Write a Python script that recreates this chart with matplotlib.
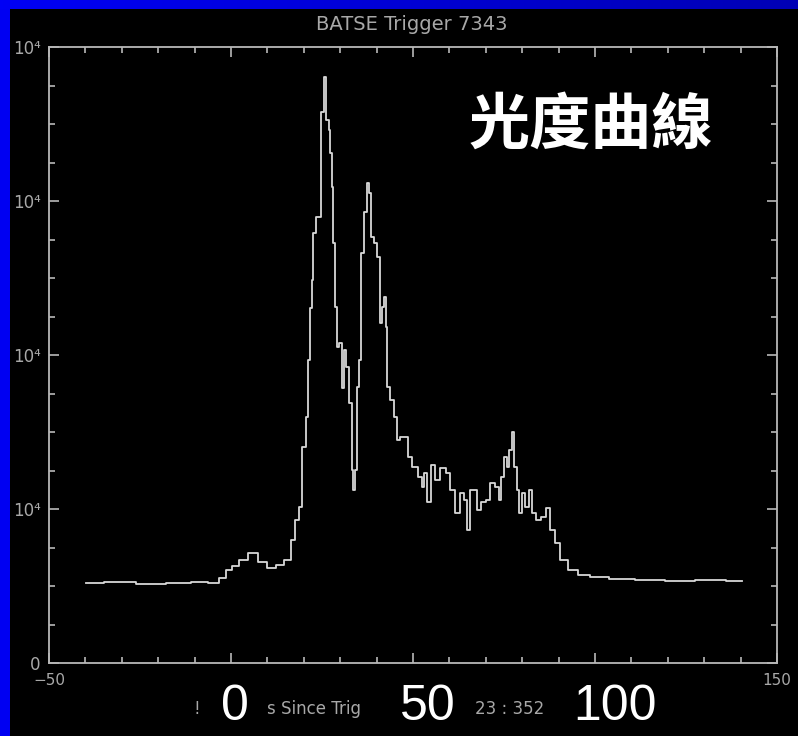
import numpy as np
import matplotlib.pyplot as plt
from matplotlib.patches import Rectangle
from matplotlib.colors import LinearSegmentedColormap
from matplotlib.ticker import MultipleLocator

# BATSE trigger 7343 light curve
time_s = [-39.8, -30.2, -22.0, -13.8, -8.3, -4.2, -2.3, -0.6, 1.3, 3.2,
          6.2, 8.7, 10.9, 13.6, 15.6, 17.2, 18.0, 19.1, 20.0, 21.1,
          21.3, 21.9, 22.4, 22.7, 24.1, 25.2, 25.7, 26.5, 27.1, 27.4,
          27.9, 28.2, 28.7, 29.3, 30.1, 30.7, 31.2, 32.0, 32.9, 33.4,
          33.7, 34.2, 34.8, 35.6, 36.1, 37.0, 37.5, 38.3, 38.6, 39.7,
          40.5, 41.1, 41.6, 42.5, 42.7, 43.0, 44.4, 45.2, 46.0, 47.1,
          48.2, 48.8, 50.7, 52.1, 52.9, 53.4, 54.3, 55.6, 56.7, 58.4,
          59.5, 60.8, 62.2, 63.6, 64.4, 65.2, 66.3, 67.1, 68.0, 69.3,
          70.7, 71.8, 73.2, 74.0, 74.6, 75.4, 76.2, 76.7, 77.6, 78.1,
          78.9, 79.5, 80.3, 81.4, 82.2, 83.1, 84.4, 85.8, 87.2, 88.3,
          89.6, 91.3, 93.8, 96.8, 100.6, 106.9, 115.2, 123.4, 131.6, 140.4]
counts = [5190, 5260, 5130, 5190, 5260, 5190, 5520, 6040, 6300, 6690,
          7140, 6560, 6170, 6360, 6690, 7990, 9290, 10130, 14030, 15970,
          19680, 23050, 24870, 27920, 28960, 35780, 38050, 35260, 34610, 33120,
          30910, 27270, 23120, 20520, 20780, 17860, 20320, 19220, 16880, 12530,
          11230, 12530, 17920, 19680, 26620, 29290, 31170, 30520, 27660, 27270,
          26360, 22080, 23120, 23770, 21820, 17920, 17080, 15970, 14480, 14680,
          14680, 13380, 12730, 12080, 11430, 12340, 10450, 12860, 11880, 12660,
          12340, 11230, 9740, 11040, 10580, 8640, 11230, 11230, 9940, 10450,
          10580, 11690, 11430, 10580, 12080, 13380, 12730, 13830, 15000, 12730,
          11230, 9740, 11040, 10130, 11230, 9740, 9290, 9480, 10060, 8640,
          7790, 6690, 6040, 5710, 5580, 5450, 5390, 5320, 5390, 5320]

xticks = [-50, 0, 50, 100, 150]
xtick_labels = ["\u221250", "", "", "", "150"]
yticks = [0, 10000, 20000, 30000, 40000]
ytick_labels = ["0", "10\u2074", "10\u2074", "10\u2074", "10\u2074"]
big_labels = ["0", "50", "100"]

W, H = 798, 736
grey = "#a8a8a8"
idl_font = ["Liberation Sans Narrow", "DejaVu Sans"]

fig = plt.figure(figsize=(W / 100, H / 100), dpi=100, facecolor="black")
ax = fig.add_axes([49 / W, 1 - 663 / H, (777 - 49) / W, (663 - 47) / H])
ax.set_facecolor("black")

ax.plot(time_s, counts, drawstyle="steps-mid", color="#d8d8d8", lw=1.3)
ax.set_xlim(-50, 150)
ax.set_ylim(0, 40000)

ax.set_xticks(xticks)
ax.set_xticklabels(xtick_labels)
ax.set_yticks(yticks)
ax.set_yticklabels(ytick_labels)
ax.xaxis.set_minor_locator(MultipleLocator(10))
ax.yaxis.set_minor_locator(MultipleLocator(2500))
ax.tick_params(which="both", direction="in", top=True, right=True,
               color="#b8b8b8", width=1.2, labelcolor=grey, labelsize=11)
ax.tick_params(which="major", length=7.5)
ax.tick_params(which="minor", length=4)
ax.tick_params(axis="y", pad=6, labelsize=12)
ax.tick_params(axis="x", pad=7)
for lab in ax.get_xticklabels() + ax.get_yticklabels():
    lab.set_family(idl_font)
for sp in ax.spines.values():
    sp.set_color("#b8b8b8")
    sp.set_linewidth(1.3)

fig.text(412 / W, 1 - 25 / H, "BATSE Trigger 7343", ha="center", va="center",
         color=grey, fontsize=14, family=idl_font)

# parts of the IDL x-axis title left visible between the slide's big numbers
fig.text(197 / W, 1 - 709 / H, "!", ha="center", va="center",
         color=grey, fontsize=12, family=idl_font)
fig.text(267 / W, 1 - 709 / H, "s Since Trig", ha="left", va="center",
         color=grey, fontsize=12, family=idl_font)
fig.text(475 / W, 1 - 709 / H, "23 : 352", ha="left", va="center",
         color=grey, fontsize=12, family=idl_font)

for lab, xc in zip(big_labels, [235, 428, 615]):
    fig.text(xc / W, 1 - 707 / H, lab, ha="center", va="center", color="white",
             fontsize=36, family=["Liberation Sans", "DejaVu Sans"])

fig.text(591 / W, 1 - 126 / H, "光度曲線", ha="center", va="center", color="white",
         fontsize=44, fontweight="bold", family=["Noto Sans CJK TC", "DejaVu Sans"])

# blue slide border (left strip and top band)
fig.add_artist(Rectangle((0, 0), 10 / W, 1, transform=fig.transFigure,
                         facecolor="#0000f2", edgecolor="none", zorder=10))
band = fig.add_axes([0, 1 - 9 / H, 1, 9 / H], zorder=11)
grad = np.linspace(0, 1, 256)[None, :]
band.imshow(grad, aspect="auto",
            cmap=LinearSegmentedColormap.from_list("slide", ["#0000f5", "#0000b5"]))
band.axis("off")

fig.savefig("out.png", dpi=100, facecolor="black")
